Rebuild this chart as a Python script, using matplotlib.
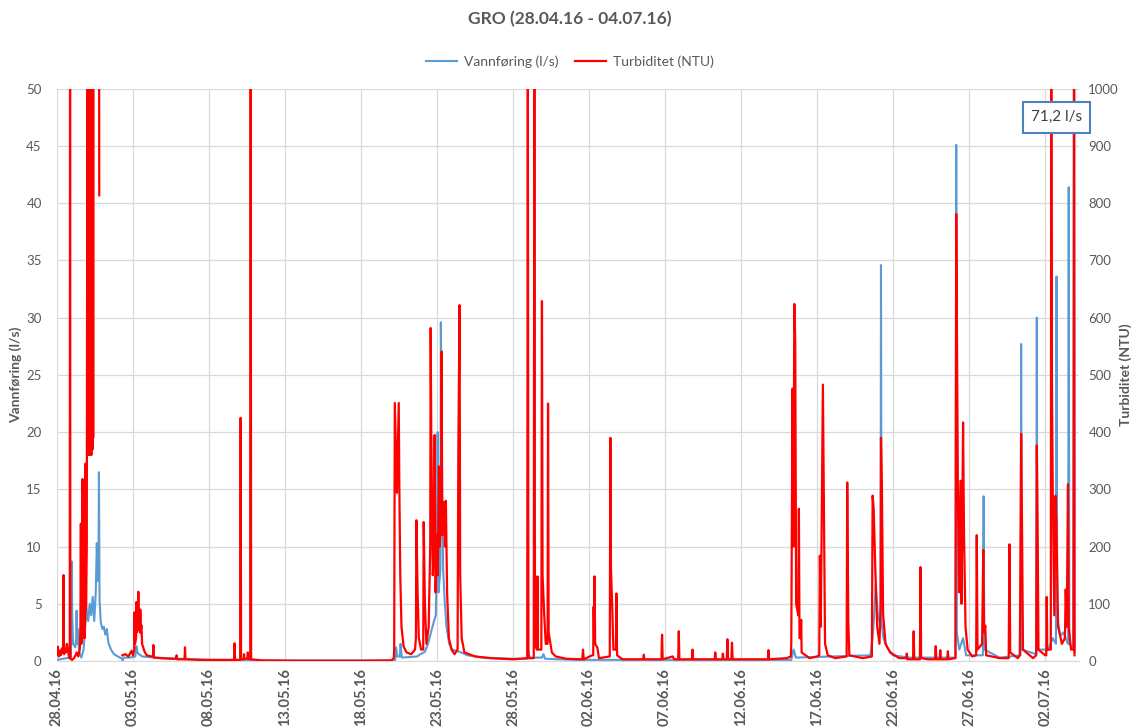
import numpy as np
import pandas as pd
import matplotlib
matplotlib.use("Agg")
import matplotlib.pyplot as plt

plt.rcParams['font.family'] = ['Lato', 'DejaVu Sans']

START = pd.Timestamp('2016-04-28')

# Vannføring (l/s) - days since 28.04.16 00:00
blue_days = [0.00, 0.40, 0.92, 0.97, 1.00, 1.06, 1.20, 1.27, 1.29, 1.32, 1.38, 1.45, 1.60,
             1.75, 1.85, 1.95, 2.05, 2.15, 2.25, 2.35, 2.45, 2.55, 2.62, 2.68, 2.73,
             2.76, 2.80, 2.88, 2.98, 3.08, 3.18, 3.28, 3.38, 3.55, 3.75, 4.00,
             4.28, 4.32, 4.38, 4.80, 5.15, 5.22, 5.30, 5.60, 6.50, 8.00, 10.0,
             12.0, 22.0, 22.25, 22.30, 22.38, 22.55, 22.60, 22.68, 23.70, 23.90,
             24.20, 24.40, 24.60, 24.80, 24.92, 24.98, 25.04, 25.10, 25.22, 25.25,
             25.30, 25.34, 25.40, 25.50, 25.62, 25.80, 26.00, 26.50, 27.00, 28.00,
             30.00, 30.95, 31.00, 31.10, 31.90, 32.00, 32.10, 34.00, 40.00, 48.30,
             48.45, 48.60, 53.50, 53.65, 53.75, 53.85, 54.00, 54.17, 54.20, 54.24,
             54.36, 54.60, 55.00, 56.00, 59.10, 59.15, 59.19, 59.35, 59.60, 59.80,
             60.90, 60.95, 61.00, 62.00, 63.38, 63.42, 63.46, 64.41, 64.45, 64.49,
             65.20, 65.50, 65.71, 65.75, 65.79, 66.00, 66.20, 66.40, 66.51, 66.55,
             66.59, 66.86, 66.90, 66.94]
blue_flow = [0.1, 0.2, 0.3, 8.7, 4.0, 1.5, 1.2, 2.0, 4.4, 1.5, 2.8, 0.8, 0.3,
             1.0, 3.0, 4.5, 3.5, 5.0, 4.0, 5.6, 3.5, 6.0, 10.3, 7.0, 8.0,
             16.5, 5.3, 3.4, 2.8, 3.0, 2.3, 2.8, 1.6, 1.0, 0.6, 0.4,
             0.2, 0.0, 0.3, 0.3, 0.4, 1.3, 0.7, 0.4, 0.3, 0.2, 0.1,
             0.05, 0.05, 0.1, 1.2, 0.4, 0.4, 1.5, 0.3, 0.4, 0.6,
             0.8, 1.5, 2.5, 3.5, 4.0, 9.0, 20.0, 6.0, 8.0, 29.6,
             21.7, 14.6, 8.0, 5.3, 3.0, 1.5, 1.0, 0.8, 0.5, 0.3,
             0.2, 0.2, 0.9, 0.3, 0.3, 0.6, 0.2, 0.1, 0.1, 0.1,
             1.0, 0.3, 0.5, 2.0, 4.0, 6.7, 4.0, 3.0, 34.6, 3.4,
             2.0, 1.2, 0.5, 0.3, 0.3, 45.1, 2.5, 1.0, 2.0, 0.5,
             0.5, 14.4, 1.0, 0.3, 0.5, 27.7, 1.0, 0.6, 30.0, 1.0,
             1.0, 2.0, 1.5, 33.6, 3.8, 2.2, 2.5, 1.8, 1.5, 41.4,
             1.5, 1.0, 71.2, 0.8]

# Turbiditet (NTU) - NaN = gap in logger data
red_days = [0.00, 0.06, 0.12, 0.18, 0.25, 0.32, 0.40, 0.43, 0.46, 0.52, 0.58, 0.65,
            0.72, 0.80, 0.84, 0.86, 0.88, 1.00, 1.15, 1.30, 1.40, 1.50, 1.54, 1.57,
            1.60, 1.65, 1.68, 1.71, 1.76, 1.78, 1.81, 1.86, 1.88, 1.91, 1.96, 2.00,
            2.02, 2.04, 2.06, 2.08, 2.10, 2.12, 2.14, 2.16, 2.18, 2.20, 2.22, 2.24,
            2.26, 2.28, 2.30, 2.32, 2.34, 2.36, 2.38, 2.40, 2.42, 2.43, 2.77, 2.78,
            2.79,
            4.30, 4.50, 4.70, 4.90, 5.00, 5.08, 5.10, 5.13, 5.20, 5.22, 5.25, 5.32,
            5.35, 5.38, 5.46, 5.48, 5.51, 5.55, 5.60, 5.75, 5.90, 6.20, 6.31, 6.34,
            6.37, 6.80, 7.50, 7.84, 7.87, 7.90, 8.39, 8.42, 8.45, 9.50, 11.0, 11.65,
            11.68, 11.71, 12.05, 12.08, 12.11, 12.28, 12.30, 12.33, 12.52, 12.55, 12.58,
            12.71, 12.74, 12.77, 13.5, 16.0, 20.0, 22.0, 22.15, 22.18, 22.22, 22.36,
            22.48, 22.52, 22.58, 22.66, 22.80, 23.00, 23.30, 23.55, 23.61, 23.64, 23.72,
            23.80, 23.95, 24.09, 24.12, 24.20, 24.30, 24.45, 24.55, 24.58, 24.62, 24.72,
            24.80, 24.84, 24.90, 25.00, 25.05, 25.12, 25.18, 25.28, 25.30, 25.34, 25.45,
            25.52, 25.58, 25.66, 25.78, 25.95, 26.15, 26.35, 26.40, 26.48, 26.52, 26.62,
            26.80, 27.5, 28.5, 30.0, 30.93, 30.97, 31.01, 31.36, 31.40, 31.44, 31.57,
            31.60, 31.64, 31.86, 31.90, 31.94, 32.05, 32.15, 32.27, 32.30, 32.34, 32.55,
            32.8, 33.5, 34.55, 34.60, 34.65, 35.20, 35.27, 35.30, 35.33, 35.36, 35.40,
            35.55, 35.65, 36.36, 36.40, 36.44, 36.52, 36.60, 36.77, 36.80, 36.84, 37.2,
            38.56, 38.60, 38.64, 39.76, 39.80, 39.84, 40.5, 40.6, 40.86, 40.90, 40.94,
            41.76, 41.80, 41.84, 43.26, 43.30, 43.34, 43.76, 43.80, 43.84, 44.06, 44.10,
            44.14, 44.36, 44.40, 44.44, 45.5, 46.76, 46.80, 46.84, 48.0, 48.27, 48.30,
            48.38, 48.44, 48.50, 48.56, 48.62, 48.76, 48.80, 48.84, 48.92, 48.95, 48.98,
            49.5, 50.0, 50.14, 50.18, 50.24, 50.38, 50.44, 50.52, 50.7, 51.2, 51.94,
            51.98, 52.05, 52.12, 53.0, 53.6, 53.65, 53.72, 53.82, 53.95, 54.10, 54.18,
            54.20, 54.26, 54.34, 54.50, 54.80, 55.4, 55.86, 55.90, 55.94, 56.31, 56.35,
            56.39, 56.76, 56.80, 56.84, 57.3, 57.76, 57.80, 57.84, 58.06, 58.10, 58.14,
            58.56, 58.60, 58.64, 59.10, 59.15, 59.19, 59.26, 59.33, 59.43, 59.50, 59.60,
            59.66, 59.76, 59.90, 60.2, 60.46, 60.50, 60.55, 60.85, 60.93, 60.98, 61.06,
            61.12, 62.0, 62.60, 62.65, 62.70, 63.2, 63.33, 63.36, 63.42, 63.48, 63.54,
            64.2, 64.41, 64.45, 64.50, 64.56, 65.0, 65.07, 65.10, 65.14, 65.37, 65.40,
            65.44, 65.50, 65.60, 65.68, 65.74, 65.85, 66.10, 66.30, 66.35, 66.42, 66.50,
            66.55, 66.70, 66.86, 66.90, 66.93]
red_ntu = [12, 25, 8, 18, 10, 22, 14, 150, 12, 20, 15, 30,
           18, 6, 5, 1100, 4, 2, 6, 15, 8, 20, 60, 240,
           30, 50, 318, 60, 40, 185, 40, 80, 345, 90, 200, 1100,
           360, 1100, 400, 1100, 380, 1100, 360, 1100, 420, 1100, 380, 1100,
           360, 1100, 400, 1100, 370, 1100, 390, 1100, 1100, np.nan, 1100, 814,
           np.nan,
           10, 12, 8, 18, 10, 20, 85, 30, 40, 103, 50, 60,
           121, 60, 50, 90, 50, 63, 30, 17, 10, 8, 8, 28,
           6, 5, 4, 4, 10, 3, 3, 24, 3, 2, 2, 2,
           31, 2, 2, 425, 3, 3, 12, 4, 4, 15, 4,
           3, 1100, 3, 1, 0.5, 0.5, 1, 5, 20, 451, 294,
           451, 300, 150, 60, 25, 15, 12, 20, 40, 246, 120,
           40, 20, 20, 243, 100, 30, 60, 200, 582, 392, 150,
           200, 395, 120, 220, 150, 340, 200, 300, 541, 220, 278,
           200, 280, 120, 40, 20, 12, 20, 369, 622, 150, 40,
           15, 8, 5, 3, 5, 1100, 5, 5, 1100, 30, 20,
           148, 20, 20, 629, 150, 80, 30, 30, 450, 50, 15,
           8, 4, 3, 20, 3, 10, 10, 95, 40, 148, 30,
           23, 5, 8, 390, 161, 95, 20, 20, 118, 10, 3,
           3, 11, 3, 3, 46, 3, 8, 3, 3, 52, 3,
           3, 20, 3, 3, 15, 3, 3, 13, 3, 3, 38,
           3, 3, 32, 3, 3, 3, 19, 3, 5, 8, 30,
           476, 200, 624, 561, 100, 80, 266, 40, 40, 72, 15,
           5, 8, 10, 184, 60, 483, 286, 30, 10, 5, 8,
           312, 69, 10, 5, 8, 289, 266, 167, 60, 30, 100,
           390, 305, 82, 30, 15, 5, 5, 13, 3, 3, 52,
           3, 3, 164, 5, 3, 3, 26, 3, 3, 19, 3,
           3, 17, 3, 5, 781, 607, 299, 120, 315, 100, 417,
           226, 60, 20, 8, 10, 220, 20, 30, 194, 50, 62,
           10, 5, 5, 204, 15, 5, 10, 112, 397, 226, 20,
           5, 10, 377, 240, 20, 10, 10, 112, 20, 20, 1100,
           509, 292, 80, 289, 240, 60, 30, 40, 125, 60, 309,
           60, 20, 20, 1100, 10]

tick_dates = pd.date_range('2016-04-28', periods=14, freq='5D')

blue_t = START + pd.to_timedelta(blue_days, unit='D')
red_t = START + pd.to_timedelta(red_days, unit='D')

TXT = '#595959'
fig = plt.figure(figsize=(11.33, 7.28), dpi=100)
ax = fig.add_axes([0.0503, 0.092, 0.9017, 0.786])
ax2 = ax.twinx()

ax.plot(blue_t, blue_flow, color='#5b9bd5', lw=1.5, label='Vannføring (l/s)')
ax2.plot(red_t, red_ntu, color='#ff0000', lw=1.6, label='Turbiditet (NTU)')

ax.set_ylim(0, 50)
ax2.set_ylim(0, 1000)
ax.set_yticks(np.arange(0, 51, 5))
ax2.set_yticks(np.arange(0, 1001, 100))
ax.set_xlim(START, START + pd.Timedelta(days=67.2))
ax.set_xticks(tick_dates)
ax.set_xticklabels([d.strftime('%d.%m.%y') for d in tick_dates],
                   rotation=90, fontsize=10.5, fontweight='bold', color=TXT)

ax.grid(True, color='#d9d9d9', lw=0.9)
ax.set_axisbelow(True)
for a in (ax, ax2):
    for s in a.spines.values():
        s.set_visible(False)
ax.spines['bottom'].set_visible(True)
ax.spines['bottom'].set_color('#d9d9d9')

ax.tick_params(axis='y', length=0, pad=11, labelsize=9.5, labelcolor=TXT)
ax.tick_params(axis='x', length=0, pad=5)
ax2.tick_params(axis='y', length=0, pad=7, labelsize=9.5, labelcolor=TXT)

ax.set_ylabel('Vannføring (l/s)', fontsize=10, fontweight='bold', color=TXT, labelpad=3)
ax2.set_ylabel('Turbiditet (NTU)', fontsize=10, fontweight='bold', color=TXT,
               rotation=90, labelpad=0)

fig.suptitle('GRO (28.04.16 - 04.07.16)', x=0.503, y=0.985, fontsize=12.5,
             fontweight='bold', color=TXT)

h1, l1 = ax.get_legend_handles_labels()
h2, l2 = ax2.get_legend_handles_labels()
fig.legend(h1 + h2, l1 + l2, loc='center', bbox_to_anchor=(0.503, 0.915), ncol=2,
           frameon=False, fontsize=10, labelcolor=TXT, handlelength=2.2,
           columnspacing=1.2, handletextpad=0.5)

fig.text(0.9325, 0.839, '71,2 l/s', ha='center', va='center', fontsize=11,
         color='#404040',
         bbox=dict(boxstyle='square,pad=0.55', fc='white', ec='#4f81bd', lw=1.5))

fig.savefig('out.png', dpi=100)
